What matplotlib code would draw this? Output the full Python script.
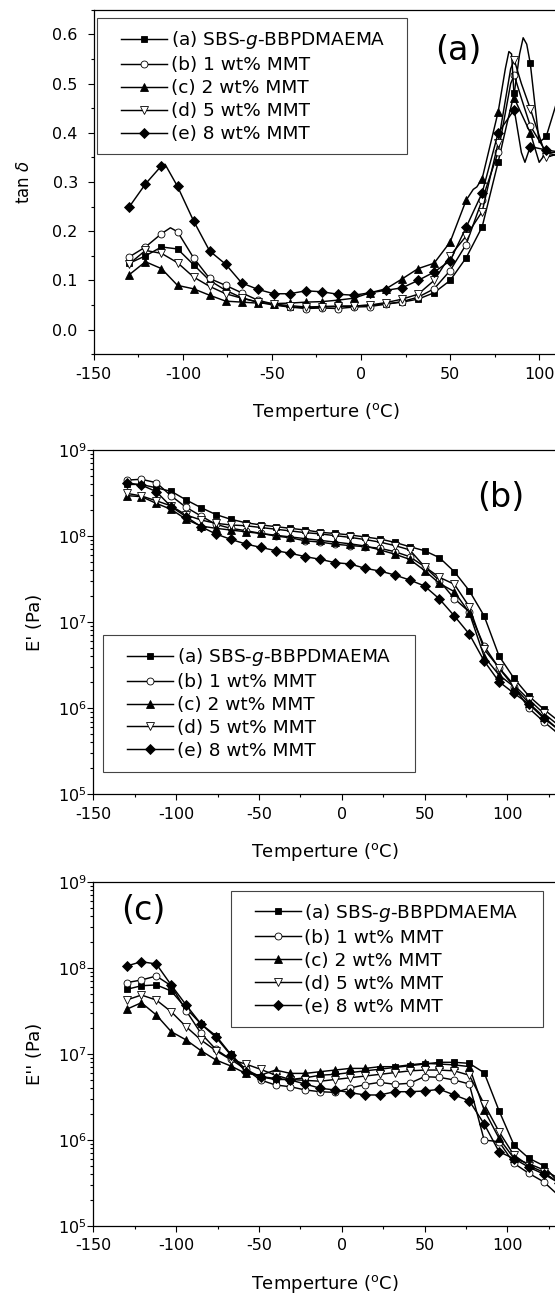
import numpy as np
import matplotlib.pyplot as plt
from matplotlib.patches import Rectangle
from matplotlib.ticker import MultipleLocator, LogLocator, NullFormatter

plt.rcParams['font.family'] = ['DejaVu Sans']
plt.rcParams['axes.unicode_minus'] = False

# ---- tan delta (panel a) ----
tan_T_a = [-130, -121, -112, -103, -94, -85, -76, -67, -58, -49, -40, -31, -22, -13, -4, 5, 14, 23, 32, 41,
           50, 59, 68, 77, 82, 86, 89, 91, 93, 95, 100, 104, 108, 113]
tan_a = [0.135, 0.150, 0.168, 0.164, 0.132, 0.100, 0.080, 0.065, 0.056, 0.050, 0.046, 0.045, 0.046, 0.047,
         0.048, 0.050, 0.052, 0.056, 0.062, 0.075, 0.100, 0.146, 0.209, 0.341, 0.420, 0.480, 0.560, 0.593,
         0.580, 0.541, 0.380, 0.393, 0.440, 0.500]

tan_T_b = [-130, -121, -112, -107, -103, -94, -85, -76, -67, -58, -49, -40, -31, -22, -13, -4, 5, 14, 23, 32,
           41, 50, 59, 68, 77, 84, 86, 90, 95, 104, 113]
tan_b = [0.148, 0.168, 0.195, 0.207, 0.199, 0.146, 0.104, 0.090, 0.075, 0.060, 0.052, 0.046, 0.043, 0.044,
         0.043, 0.046, 0.047, 0.052, 0.057, 0.066, 0.083, 0.120, 0.173, 0.264, 0.361, 0.500, 0.517, 0.470,
         0.414, 0.360, 0.360]

tan_T_c = [-130, -121, -112, -103, -94, -85, -76, -67, -58, -49, -40, -31, -22, -13, -4, 5, 14, 23, 32, 41,
           50, 59, 63, 65, 68, 77, 81, 83, 84.5, 86, 95, 100, 104, 113]
tan_c = [0.112, 0.138, 0.124, 0.090, 0.083, 0.070, 0.058, 0.056, 0.054, 0.053, 0.054, 0.056, 0.057, 0.060,
         0.064, 0.075, 0.083, 0.103, 0.124, 0.135, 0.178, 0.263, 0.285, 0.290, 0.307, 0.443, 0.530, 0.565,
         0.560, 0.470, 0.400, 0.340, 0.360, 0.350]

tan_T_d = [-130, -121, -112, -103, -94, -85, -76, -67, -58, -49, -40, -31, -22, -13, -4, 5, 14, 23, 32, 41,
           50, 59, 68, 77, 84, 86, 90, 95, 104, 113]
tan_d = [0.134, 0.161, 0.155, 0.136, 0.107, 0.088, 0.073, 0.064, 0.056, 0.052, 0.049, 0.046, 0.047, 0.048,
         0.048, 0.050, 0.055, 0.062, 0.072, 0.100, 0.150, 0.190, 0.240, 0.380, 0.530, 0.548, 0.500, 0.449,
         0.350, 0.360]

tan_T_e = [-130, -121, -112, -110, -103, -94, -85, -76, -67, -58, -49, -40, -31, -22, -13, -4, 5, 14, 23, 32,
           41, 50, 59, 68, 77, 86, 90, 92, 95, 104, 113]
tan_e = [0.250, 0.296, 0.333, 0.336, 0.291, 0.221, 0.160, 0.133, 0.095, 0.082, 0.073, 0.073, 0.079, 0.077,
         0.072, 0.070, 0.075, 0.080, 0.085, 0.100, 0.117, 0.140, 0.208, 0.278, 0.400, 0.447, 0.360, 0.340,
         0.372, 0.365, 0.360]

# ---- storage / loss modulus (panels b, c), log10 of value in Pa ----
temp_grid = [-130, -121, -112, -103, -94, -85, -76, -67, -58, -49, -40, -31, -22, -13, -4, 5, 14, 23, 32, 41,
             50, 59, 68, 77, 86, 95, 104, 113, 122, 131]

logE1_a = [8.60, 8.60, 8.56, 8.52, 8.42, 8.33, 8.25, 8.195, 8.155, 8.13, 8.11, 8.09, 8.07, 8.044, 8.03, 8.013,
           7.99, 7.966, 7.927, 7.877, 7.830, 7.749, 7.586, 7.366, 7.072, 6.607, 6.348, 6.142, 5.988, 5.85]
logE1_b = [8.65, 8.66, 8.62, 8.466, 8.334, 8.233, 8.136, 8.09, 8.063, 8.032, 8.001, 7.98, 7.945, 7.93, 7.905,
           7.89, 7.877, 7.858, 7.819, 7.761, 7.645, 7.48, 7.273, 7.12, 6.723, 6.464, 6.25, 6.0, 5.844, 5.70]
logE1_c = [8.47, 8.458, 8.38, 8.31, 8.195, 8.117, 8.09, 8.07, 8.05, 8.03, 8.01, 7.99, 7.97, 7.95, 7.93, 7.91,
           7.885, 7.84, 7.79, 7.73, 7.60, 7.45, 7.354, 7.11, 6.60, 6.386, 6.25, 6.06, 5.90, 5.75]
logE1_d = [8.497, 8.466, 8.41, 8.35, 8.245, 8.187, 8.148, 8.129, 8.12, 8.10, 8.08, 8.06, 8.04, 8.025, 8.005,
           7.985, 7.96, 7.93, 7.89, 7.84, 7.645, 7.521, 7.44, 7.18, 6.684, 6.47, 6.27, 6.10, 5.94, 5.80]
logE1_e = [8.62, 8.593, 8.516, 8.341, 8.225, 8.109, 8.024, 7.962, 7.908, 7.869, 7.831, 7.800, 7.761, 7.730,
           7.691, 7.676, 7.626, 7.594, 7.548, 7.490, 7.420, 7.269, 7.072, 6.862, 6.549, 6.308, 6.174, 6.049,
           5.883, 5.75]

logE2_a = [7.748, 7.79, 7.80, 7.729, 7.527, 7.345, 7.209, 6.992, 6.818, 6.73, 6.70, 6.70, 6.72, 6.75, 6.76,
           6.78, 6.80, 6.82, 6.84, 6.86, 6.88, 6.900, 6.900, 6.888, 6.779, 6.337, 5.938, 5.784, 5.698, 5.50]
logE2_b = [7.826, 7.857, 7.903, 7.79, 7.50, 7.236, 7.05, 6.934, 6.818, 6.694, 6.636, 6.616, 6.578, 6.558, 6.55,
           6.60, 6.64, 6.667, 6.644, 6.656, 6.733, 6.725, 6.694, 6.648, 5.996, 5.977, 5.725, 5.609, 5.51, 5.35]
logE2_c = [7.516, 7.593, 7.45, 7.256, 7.16, 7.035, 6.927, 6.857, 6.771, 6.75, 6.81, 6.771, 6.771, 6.791, 6.81,
           6.829, 6.829, 6.849, 6.849, 6.87, 6.888, 6.88, 6.87, 6.85, 6.345, 6.016, 5.783, 5.72, 5.65, 5.55]
logE2_d = [7.624, 7.682, 7.624, 7.488, 7.314, 7.159, 7.035, 6.93, 6.88, 6.818, 6.75, 6.70, 6.69, 6.68, 6.70,
           6.72, 6.74, 6.76, 6.78, 6.80, 6.81, 6.81, 6.80, 6.75, 6.415, 6.093, 5.82, 5.70, 5.62, 5.50]
logE2_e = [8.019, 8.07, 8.043, 7.798, 7.566, 7.345, 7.19, 6.984, 6.791, 6.733, 6.713, 6.694, 6.647, 6.598,
           6.578, 6.547, 6.520, 6.520, 6.558, 6.558, 6.566, 6.586, 6.520, 6.453, 6.183, 5.860, 5.78, 5.68,
           5.60, 5.50]

labels = ['(a) SBS-$g$-BBPDMAEMA', '(b) 1 wt% MMT', '(c) 2 wt% MMT', '(d) 5 wt% MMT', '(e) 8 wt% MMT']
markers = ['s', 'o', '^', 'v', 'D']
faces = ['k', 'w', 'k', 'w', 'k']
msizes = [4.6, 5.0, 5.2, 5.2, 4.6]

W, H = 555, 1299
fig = plt.figure(figsize=(W / 100, H / 100), dpi=100)


def px_axes(left, top, right, bottom):
    return fig.add_axes([left / W, 1 - bottom / H, (right - left) / W, (bottom - top) / H])


def draw_series(ax, xs, ys, i):
    grid = set(temp_grid)
    mk = [j for j, t in enumerate(xs) if t in grid]
    ax.plot(xs, ys, color='k', lw=1.05, marker=markers[i], markevery=mk, ms=msizes[i],
            mfc=faces[i], mec='k', mew=0.6, label=labels[i])


def style_axes(ax, ypad):
    for s in ax.spines.values():
        s.set_linewidth(0.9)
    ax.tick_params(which='both', direction='out', top=False, right=False, width=0.8, labelsize=11.5)
    ax.tick_params(which='major', length=4)
    ax.tick_params(which='minor', length=2.2)
    ax.tick_params(axis='x', pad=5)
    ax.tick_params(axis='y', pad=ypad)
    ax.xaxis.set_major_locator(MultipleLocator(50))
    ax.xaxis.set_minor_locator(MultipleLocator(25))
    ax.set_xlabel('Temperture ($^{\\rm o}$C)', fontsize=13, labelpad=14)


def add_legend(ax, x0, y0, x1, y1):
    # box drawn by hand so the inner margins can differ left/right and top/bottom
    fig.patches.append(Rectangle((x0 / W, 1 - y1 / H), (x1 - x0) / W, (y1 - y0) / H,
                                 transform=fig.transFigure, fill=False, ec='#444444', lw=0.8, zorder=5))
    ax.legend(loc='upper left', bbox_to_anchor=((x0 + 23.5) / W, 1 - (y0 + 11) / H),
              bbox_transform=fig.transFigure, borderaxespad=0, borderpad=0, fontsize=13.3,
              frameon=False, handlelength=2.5, handletextpad=0.2, labelspacing=0.27, numpoints=1)


# panel a: loss tangent
ax1 = px_axes(93.8, 9.7, 557, 354.3)
tan_sets = [(tan_T_a, tan_a), (tan_T_b, tan_b), (tan_T_c, tan_c), (tan_T_d, tan_d), (tan_T_e, tan_e)]
for i, (xs, ys) in enumerate(tan_sets):
    draw_series(ax1, xs, ys, i)
ax1.set_xlim(-150, 110)
ax1.set_ylim(-0.05, 0.65)
ax1.yaxis.set_major_locator(MultipleLocator(0.1))
ax1.yaxis.set_minor_locator(MultipleLocator(0.05))
ax1.yaxis.set_major_formatter(lambda v, p: f'{v:.1f}')
style_axes(ax1, 7.5)
ax1.set_ylabel('tan $\\delta$', fontsize=12, labelpad=14)
add_legend(ax1, 97.3, 18.3, 407, 154)
ax1.text(458 / W, 1 - 50 / H, '(a)', transform=fig.transFigure, fontsize=24, ha='center', va='center')


def log_panel(ax, sets, ylab):
    for i, lg in enumerate(sets):
        draw_series(ax, temp_grid, 10 ** np.array(lg), i)
    ax.set_yscale('log')
    ax.set_xlim(-150, 130)
    ax.set_ylim(1e5, 1e9)
    ax.yaxis.set_major_locator(LogLocator(base=10, numticks=10))
    ax.yaxis.set_minor_locator(LogLocator(base=10, subs=np.arange(2, 10), numticks=20))
    ax.yaxis.set_minor_formatter(NullFormatter())
    style_axes(ax, 1)
    ax.set_ylabel(ylab, fontsize=13, labelpad=10)


# panel b: storage modulus
ax2 = px_axes(93.4, 450, 557, 794.3)
log_panel(ax2, [logE1_a, logE1_b, logE1_c, logE1_d, logE1_e], "E' (Pa)")
add_legend(ax2, 103.4, 635, 415.2, 771.7)
ax2.text(501 / W, 1 - 498 / H, '(b)', transform=fig.transFigure, fontsize=24, ha='center', va='center')

# panel c: loss modulus
ax3 = px_axes(93.4, 881.7, 557, 1225.7)
log_panel(ax3, [logE2_a, logE2_b, logE2_c, logE2_d, logE2_e], "E'' (Pa)")
add_legend(ax3, 231, 890.7, 542.7, 1026.7)
ax3.text(143 / W, 1 - 910 / H, '(c)', transform=fig.transFigure, fontsize=24, ha='center', va='center')

fig.savefig('out.png', dpi=100)
